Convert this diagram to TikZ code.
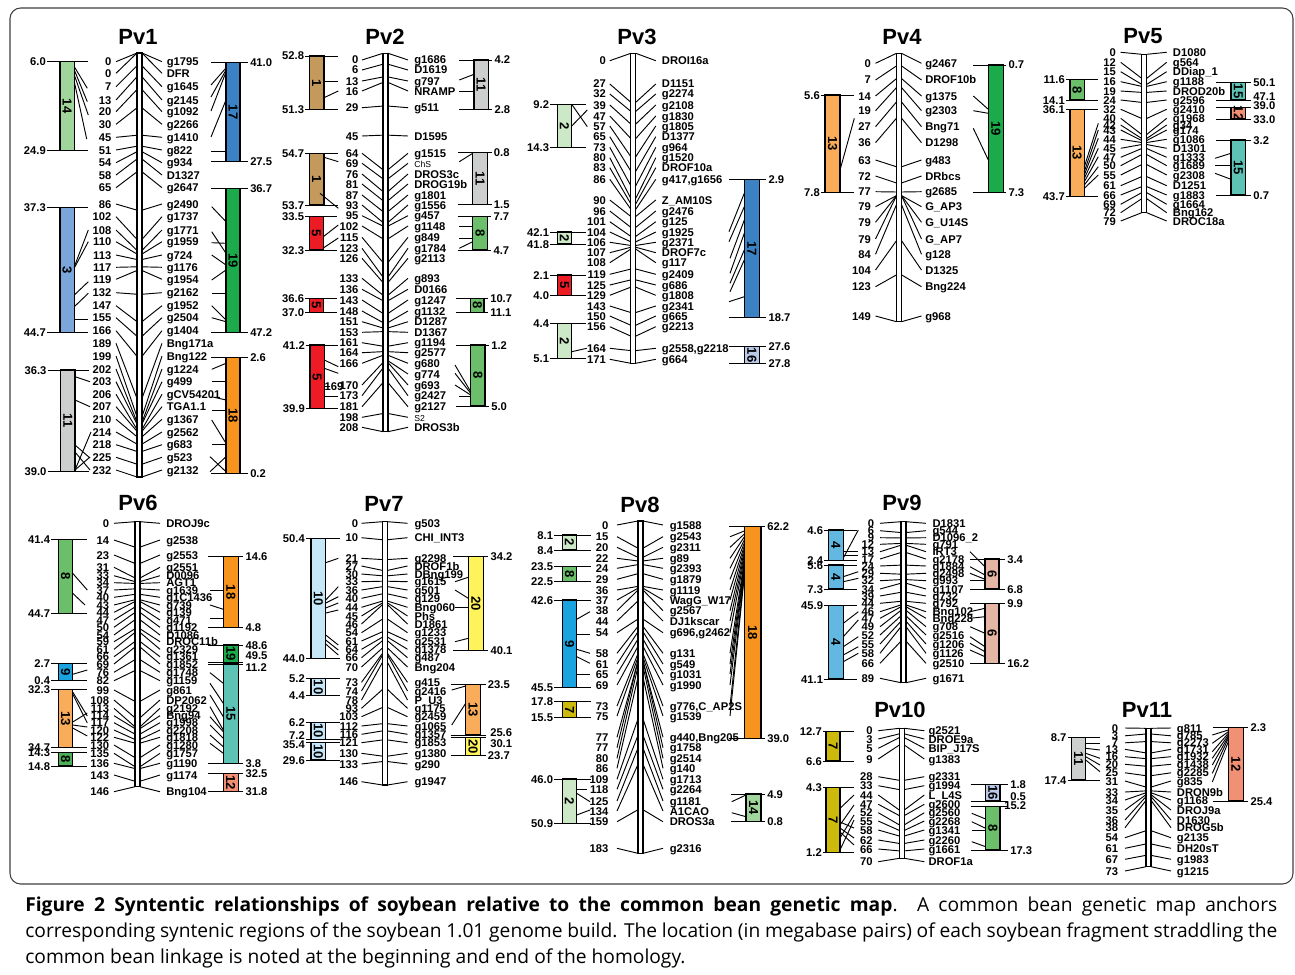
\documentclass[tikz,border=0pt]{standalone}
\usepackage{fontspec}
\setmainfont{Liberation Sans}
\newfontfamily\capfont{Open Sans}
\definecolor{c1}{HTML}{C49A5C}
\definecolor{c2}{HTML}{CDE8C6}
\definecolor{c3}{HTML}{7AA6DA}
\definecolor{c4}{HTML}{62B8E0}
\definecolor{c5}{HTML}{ED1C24}
\definecolor{c6}{HTML}{E5B6A3}
\definecolor{c7}{HTML}{CBB90C}
\definecolor{c8}{HTML}{6BBF6A}
\definecolor{c8d}{HTML}{4DAF55}
\definecolor{c9}{HTML}{1AA3DF}
\definecolor{c10}{HTML}{C5E7F8}
\definecolor{c11}{HTML}{CDCFCE}
\definecolor{c12}{HTML}{F29075}
\definecolor{c13}{HTML}{F9AD5A}
\definecolor{c14}{HTML}{A0D59B}
\definecolor{c15}{HTML}{5EC3B5}
\definecolor{c16}{HTML}{B9C9E6}
\definecolor{c17}{HTML}{3B82C4}
\definecolor{c18}{HTML}{F7941D}
\definecolor{c19}{HTML}{1BAB4B}
\definecolor{c20}{HTML}{FFF35C}
\tikzset{
 lab/.style={font=\bfseries\fontsize{8.4}{9}\selectfont,inner sep=0pt},
 ttl/.style={font=\bfseries\fontsize{16.5}{18}\selectfont,inner sep=0pt},
 bnum/.style={font=\bfseries\fontsize{9.8}{10}\selectfont,inner sep=0pt,rotate=-90},
 conn/.style={line width=0.7pt},
 chrom/.style={draw,fill=white,line width=0.9pt},
 blk/.style={draw,line width=0.8pt},
 capt/.style={anchor=base west,inner sep=0pt,font=\capfont\fontsize{14.4}{17}\selectfont},
}
\newcounter{nc}
\newcommand\setchr[6]{\gdef\cx{#1}\gdef\ctop{#2}\gdef\cbot{#3}\gdef\cmax{#4}\gdef\lgp{#5}\gdef\rgp{#6}}
\newcommand\drawchr{\draw[chrom] (\cx-2.5,\ctop) rectangle (\cx+2.5,\cbot);}
\newcommand\chy[1]{\pgfmathsetmacro\yy{\ctop+(#1)/\cmax*(\cbot-\ctop)}}
\newcommand\lmk[3]{\chy{#1}\draw[conn] (\cx-23.5,#2) -- (\cx-2.5,\yy);\stepcounter{nc}\node[lab,anchor=base east] (n\arabic{nc}) at (\cx-\lgp,#2+4) {#3};}
\newcommand\rmk[3]{\chy{#1}\draw[conn] (\cx+2.5,\yy) -- (\cx+22.5,#2);\stepcounter{nc}\node[lab,anchor=base west] (n\arabic{nc}) at (\cx+\rgp,#2+4) {#3};}
\newcommand\mk[3]{\lmk{#1}{#2}{#1}\rmk{#1}{#2}{#3}}
\newcommand\sg[4]{\draw[conn] (#1,#2) -- (#3,#4);}
\newcommand\vL[3]{\stepcounter{nc}\node[lab,anchor=base east] (n\arabic{nc}) at (#1,#2+4) {#3};}
\newcommand\vR[3]{\stepcounter{nc}\node[lab,anchor=base west] (n\arabic{nc}) at (#1,#2+4) {#3};}
\newcommand\bL[8]{%
 \draw[conn] (#1-\lvg+1,#2) -- (#3+14,#2);
 \draw[conn] (#1-\lvg+1,#4) -- (#3+14,#4);
 \draw[blk,fill=#5] (#1,#2) rectangle (#3,#4);
 \stepcounter{nc}\node[bnum] (n\arabic{nc}) at ({(#1+#3)/2},{(#2+#4)/2}) {#6};
 \vL{#1-\lvg}{#2}{#7}\vL{#1-\lvg}{#4}{#8}}
\newcommand\bR[8]{%
 \draw[conn] (#1-15,#2) -- (#3+\rvg-2,#2);
 \draw[conn] (#1-15,#4) -- (#3+\rvg-2,#4);
 \draw[blk,fill=#5] (#1,#2) rectangle (#3,#4);
 \stepcounter{nc}\node[bnum] (n\arabic{nc}) at ({(#1+#3)/2},{(#2+#4)/2}) {#6};
 \vR{#3+\rvg}{#2}{#7}\vR{#3+\rvg}{#4}{#8}}
\begin{document}
\begin{tikzpicture}[x=0.75pt,y=-0.75pt]
\useasboundingbox (0,0) rectangle (1295,974);
\fill[white] (0,0) rectangle (1295,974);
\draw[rounded corners=8pt,line width=0.8pt,black!75] (10,8) rectangle (1293,884);
% titles
\node[ttl] (t1) at (138,37) {Pv1};
\node[ttl] (t2) at (385,37) {Pv2};
\node[ttl] (t3) at (637,37) {Pv3};
\node[ttl] (t4) at (902,37) {Pv4};
\node[ttl] (t5) at (1143,36) {Pv5};
\node[ttl] (t6) at (138,503) {Pv6};
\node[ttl] (t7) at (384,504) {Pv7};
\node[ttl] (t8) at (640,505) {Pv8};
\node[ttl] (t9) at (902,503) {Pv9};
\node[ttl] (t10) at (900,710) {Pv10};
\node[ttl] (t11) at (1147,710) {Pv11};
%================ Pv1
\setchr{139.5}{53}{477}{232}{28}{27}
\def\lvg{14}\def\rvg{10}
\mk{0}{61.7}{g1795}
\mk{0}{73.3}{DFR}
\mk{7}{86.7}{g1645}
\mk{13}{100}{g2145}
\mk{20}{111.7}{g1092}
\mk{30}{124.3}{g2266}
\mk{45}{137.3}{g1410}
\mk{51}{150}{g822}
\mk{54}{162.7}{g934}
\mk{58}{175}{D1327}
\mk{65}{187.7}{g2647}
\mk{86}{204}{g2490}
\mk{102}{216.7}{g1737}
\mk{108}{230}{g1771}
\mk{110}{241.7}{g1959}
\mk{113}{255}{g724}
\mk{117}{267.3}{g1176}
\mk{119}{279.3}{g1954}
\mk{132}{292.7}{g2162}
\mk{147}{305.7}{g1952}
\mk{155}{317.7}{g2504}
\mk{166}{330.7}{g1404}
\mk{189}{343.3}{Bng171a}
\mk{199}{356}{Bng122}
\mk{202}{369}{g1224}
\mk{203}{381.7}{g499}
\mk{206}{394.3}{gCV54201}
\mk{207}{406.7}{TGA1.1}
\mk{210}{419.3}{g1367}
\mk{214}{432}{g2562}
\mk{218}{444.7}{g683}
\mk{225}{457.3}{g523}
\mk{232}{470}{g2132}
\drawchr
\bL{60}{61.7}{74.3}{150.7}{c14}{14}{6.0}{24.9}
\sg{74.3}{66.7}{87.3}{88.3}\sg{74.3}{70}{87.3}{101.7}\sg{74.3}{75}{88.3}{115}\sg{74.3}{81.7}{86.7}{139}
\bL{60}{207.7}{74.3}{332.3}{c3}{3}{37.3}{44.7}
\sg{74.3}{266.7}{88.3}{230}\sg{74.3}{268}{88.3}{241.7}\sg{74.3}{295}{88.3}{281.7}\sg{74.3}{306.7}{88.3}{293.3}\sg{74.3}{319}{88.3}{319}
\bL{60.7}{370}{75}{471.7}{c11}{11}{36.3}{39.0}
\sg{75}{376.7}{90}{381.7}\sg{75}{400}{90}{406.7}\sg{75}{470}{91}{432}\sg{75}{445}{90}{458}\sg{75}{452}{90}{470}\sg{75}{470}{90}{457}
\bR{226}{62.7}{240}{161.7}{c17}{17}{41.0}{27.5}
\sg{211}{85}{226}{68}\sg{211}{97}{226}{70}\sg{211}{111}{226}{72}\sg{211}{137}{226}{100}\sg{211}{151.3}{226}{151.3}
\bR{226}{188.3}{240}{332.3}{c19}{19}{36.7}{47.2}
\sg{211.7}{206.7}{226}{221.7}\sg{211.7}{231.7}{226}{253.3}\sg{211.7}{242.7}{226}{243.3}\sg{211.7}{255}{226}{265}\sg{211.7}{280}{226}{270}\sg{211.7}{293.3}{226}{293.3}\sg{211.7}{305.7}{226}{320}\sg{211.7}{317.7}{226}{321.7}
\bR{226}{357.3}{240}{473.3}{c18}{18}{2.6}{0.2}
\sg{211.7}{369.3}{226}{363.3}\sg{211.7}{381}{226}{381}\sg{211.7}{396.7}{226}{400}\sg{211.7}{410}{226}{410}\sg{211.7}{420}{226}{443.3}\sg{211.7}{444.3}{226}{444.3}\sg{210}{456.7}{226}{471.7}\sg{210}{471.7}{226}{456.7}
%================ Pv2
\setchr{385.5}{53.3}{431.7}{208}{27}{28.5}
\def\lvg{5}\def\rvg{6}
\mk{0}{60}{g1686}
\mk{6}{70}{D1619}
\mk{13}{81}{g797}
\mk{16}{91}{NRAMP}
\mk{29}{107.7}{g511}
\mk{45}{136}{D1595}
\mk{64}{153.3}{g1515}
\mk{69}{163.3}{{\mdseries\fontsize{6.5}{7}\selectfont ChS}}
\mk{76}{174}{DROS3c}
\mk{81}{184}{DROG19b}
\mk{87}{195}{g1801}
\mk{93}{205}{g1556}
\mk{95}{215.7}{g457}
\mk{102}{226}{g1148}
\mk{115}{237.3}{g849}
\mk{123}{248.3}{g1784}
\mk{126}{258.3}{g2113}
\mk{133}{278.3}{g893}
\mk{136}{289.3}{D0166}
\mk{143}{300}{g1247}
\mk{148}{311}{g1132}
\mk{151}{321.7}{D1287}
\mk{153}{332.3}{D1367}
\mk{161}{342.7}{g1194}
\mk{164}{352.7}{g2577}
\mk{166}{363.3}{g680}
\rmk{169}{374}{g774}
\mk{170}{385}{g693}
\mk{173}{395.7}{g2427}
\mk{181}{406.7}{g2127}
\mk{198}{417.3}{{\mdseries\fontsize{6.5}{7}\selectfont S2}}
\mk{208}{427.3}{DROS3b}
\drawchr
\bL{309.3}{56}{324}{109.3}{c1}{1}{52.8}{51.3}
\sg{324}{81.7}{338.3}{81.7}\sg{324}{97.7}{338.3}{91}
\bL{309.3}{153.3}{324}{205}{c1}{1}{54.7}{53.7}
\sg{324}{157.3}{338.3}{161.7}\sg{320}{193.3}{338.3}{208.3}
\bL{309.3}{216.7}{323.3}{250}{c5}{5}{33.5}{32.3}
\sg{323.3}{236.7}{338.3}{225}\sg{323.3}{248}{338.3}{238}
\bL{309.3}{298.3}{323.3}{312.3}{c5}{5}{36.6}{37.0}
\bL{310}{345}{324.3}{408.3}{c5}{5}{41.2}{39.9}
\sg{324.3}{360}{338.3}{366.7}\sg{324.3}{368.3}{338.3}{373.3}\sg{324.3}{396}{338.3}{396}\sg{324.3}{386.7}{330}{386.7}
\vL{343.5}{386.7}{169}
\bR{474}{60}{488.3}{109.3}{c11}{11}{4.2}{2.8}
\sg{459.3}{80}{474}{74.3}\sg{459.3}{91.7}{474}{91.7}
\bR{472.7}{152.7}{487.7}{204.3}{c11}{11}{0.8}{1.5}
\sg{459.3}{161.7}{472.7}{153.3}
\bR{472.7}{216.7}{487.3}{250}{c8}{8}{7.7}{4.7}
\sg{459.3}{226.7}{472.7}{226.7}\sg{459.3}{238.3}{472.7}{238.3}\sg{459.3}{248.3}{472.7}{241.7}
\bR{470.7}{298.3}{484}{312.3}{c8}{8}{10.7}{11.1}
\bR{470.7}{345}{485}{406}{c8}{8}{1.2}{5.0}
\sg{455}{365}{470.7}{391.7}\sg{455}{373.3}{470.7}{393.3}\sg{455}{385}{470.7}{395}\sg{459.3}{396}{470.7}{396}
%================ Pv3
\setchr{633.3}{53.3}{363.3}{171}{27.3}{28.4}
\def\lvg{8}\def\rvg{9}
\mk{0}{60.7}{DROI16a}
\mk{27}{84}{D1151}
\mk{32}{94}{g2274}
\mk{39}{105}{g2108}
\mk{47}{116}{g1830}
\mk{57}{126}{g1805}
\mk{65}{136.7}{D1377}
\mk{73}{147.3}{g964}
\mk{80}{157.7}{g1520}
\mk{83}{167.7}{DROF10a}
\mk{86}{179.3}{g417,g1656}
\mk{90}{200}{Z\_AM10S}
\mk{96}{211}{g2476}
\mk{101}{221.7}{g125}
\mk{104}{232}{g1925}
\mk{106}{242.3}{g2371}
\mk{107}{252.7}{DROF7c}
\mk{108}{262.7}{g117}
\mk{119}{274.3}{g2409}
\mk{125}{285}{g686}
\mk{129}{295.3}{g1808}
\mk{143}{306}{g2341}
\mk{150}{316}{g665}
\mk{156}{326.7}{g2213}
\mk{164}{348.3}{g2558,g2218}
\mk{171}{359.3}{g664}
\drawchr
\bL{557.3}{104.3}{571.7}{147.3}{c2}{2}{9.2}{14.3}
\sg{571.7}{104.3}{587.3}{126.7}\sg{571.7}{126}{587.3}{110}
\bL{557.3}{232}{571.7}{244}{c2}{2}{42.1}{41.8}
\bL{557.3}{275}{571.7}{295.3}{c5}{5}{2.1}{4.0}
\bL{557.3}{323.3}{571.7}{358.7}{c2}{2}{4.4}{5.1}
\sg{571.7}{351.7}{586.7}{348.3}
\bR{744.3}{179.3}{759.3}{317.7}{c17}{17}{2.9}{18.7}
\sg{729}{231.7}{744.3}{193.3}\sg{729}{241.7}{744.3}{206.7}\sg{730}{258.3}{744.3}{220}\sg{730}{273.3}{744.3}{233.3}\sg{730}{283.3}{744.3}{250}\sg{730}{291.7}{744.3}{260}\sg{729}{301.7}{744.3}{296.7}
\bR{744.3}{346.7}{759.3}{363.3}{c16}{16}{27.6}{27.8}
%================ Pv4
\setchr{899}{53.3}{321.7}{149}{28}{26}
\def\lvg{5}\def\rvg{5}
\mk{0}{63.3}{g2467}
\mk{7}{80}{DROF10b}
\mk{14}{96}{g1375}
\mk{19}{110.7}{g2303}
\mk{27}{126.7}{Bng71}
\mk{36}{142.7}{D1298}
\mk{63}{160}{g483}
\mk{72}{176}{DRbcs}
\mk{77}{191.7}{g2685}
\mk{79}{206.7}{G\_AP3}
\mk{79}{222.3}{G\_U14S}
\mk{79}{239}{G\_AP7}
\mk{84}{254.3}{g128}
\mk{104}{270}{D1325}
\mk{123}{286.7}{Bng224}
\mk{149}{316}{g968}
\drawchr
\bL{825}{95}{840}{192.3}{c13}{13}{5.6}{7.8}
\sg{840}{170}{854.3}{118.3}
\bR{988.3}{65}{1003.3}{192.3}{c19}{19}{0.7}{7.3}
\sg{973.3}{96}{988.3}{109.3}\sg{973.3}{110.7}{988.3}{113.3}\sg{973.3}{128.3}{988.3}{160}
%================ Pv5
\setchr{1144.2}{54.3}{212.7}{79}{28.2}{28.5}
\def\lvg{5}\def\rvg{7.5}
\mk{0}{52.3}{D1080}
\mk{12}{62.3}{g564}
\mk{15}{71.7}{DDiap\_1}
\mk{16}{81.7}{g1188}
\mk{19}{91}{DROD20b}
\mk{24}{100}{g2596}
\mk{32}{109.3}{g2410}
\mk{40}{118.3}{g1968}
\mk{42}{125}{g34}
\mk{43}{130}{g174}
\mk{44}{139.3}{g1086}
\mk{45}{148.3}{D1301}
\mk{47}{157.3}{g1333}
\mk{50}{165.7}{g1689}
\mk{55}{175}{g2308}
\mk{61}{185.7}{D1251}
\mk{66}{195}{g1883}
\mk{69}{204.3}{g1664}
\mk{72}{212.7}{Bng162}
\mk{79}{221}{DROC18a}
\drawchr
\bL{1070}{79.3}{1084.3}{100}{c8}{8}{11.6}{14.1}
\bL{1070}{109.3}{1084.3}{196.7}{c13}{13}{36.1}{43.7}
\sg{1084.3}{166.7}{1098.3}{123.3}\sg{1084.3}{171.7}{1098.3}{130}\sg{1084.3}{175}{1098.3}{138.3}\sg{1084.3}{178.3}{1098.3}{148.3}\sg{1084.3}{181.7}{1098.3}{156.7}\sg{1084.3}{185}{1098.3}{166.7}\sg{1084.3}{188.3}{1098.3}{175}
\bR{1231}{82.3}{1245.7}{100}{c15}{15}{50.1}{}
\vR{1253.2}{96}{47.1}
\bR{1231}{107.3}{1245.7}{119}{c12}{12}{}{33.0}
\vR{1253.2}{105.5}{39.0}
\bR{1231}{140}{1245.7}{195}{c15}{15}{3.2}{0.7}
\sg{1215}{158.3}{1231}{153.3}\sg{1215}{165}{1231}{165}\sg{1215}{173.3}{1231}{179.3}
%================ Pv6
\setchr{137.5}{521.7}{786.7}{146}{28.2}{28.5}
\def\lvg{8}\def\rvg{7}
\mk{0}{523.3}{DROJ9c}
\mk{14}{540}{g2538}
\mk{23}{555}{g2553}
\mk{31}{567.3}{g2551}
\mk{33}{575.7}{D0096}
\mk{34}{582.7}{AGT1}
\mk{37}{590}{g1639}
\mk{40}{597.3}{g1C1436}
\mk{43}{605}{g739}
\mk{44}{612.3}{g139}
\mk{47}{620}{g471}
\mk{50}{627.3}{g1192}
\mk{54}{635}{D1086}
\mk{59}{641.7}{DROC11b}
\mk{61}{649.3}{g2329}
\mk{66}{656.7}{g1361}
\mk{69}{664}{g1852}
\mk{76}{672.3}{g1748}
\mk{82}{680.7}{g1159}
\mk{99}{690}{g861}
\mk{108}{700}{DP2062}
\mk{113}{708.3}{g2192}
\mk{114}{715.7}{Bng94}
\mk{117}{722.7}{g1998}
\mk{120}{730}{g2208}
\mk{122}{737.3}{g1818}
\mk{130}{745}{g1280}
\mk{135}{753.3}{g1757}
\mk{136}{763.3}{g1190}
\mk{143}{775}{g1174}
\mk{146}{791.7}{Bng104}
\drawchr
\bL{58.3}{539.3}{72.7}{613.3}{c8}{8}{41.4}{44.7}
\sg{72.7}{573.3}{87.3}{590}\sg{72.7}{593.3}{85}{605}
\bL{58.3}{663.3}{72.7}{680.7}{c9}{9}{2.7}{0.4}
\sg{72.7}{674.3}{87.3}{670}
\bL{58.3}{689.3}{72.7}{747.3}{c13}{13}{32.3}{34.7}
\sg{72.7}{692}{87.3}{716}\sg{72.7}{694}{87.3}{723}\sg{72.7}{722}{87.3}{713}\sg{72.7}{725}{87.3}{727}\sg{72.7}{728}{87.3}{736}
\bL{58.3}{752.3}{72.7}{766}{c8d}{8}{14.3}{14.8}
\bR{223.3}{556.7}{238.3}{627.7}{c18}{18}{14.6}{4.8}
\sg{210}{590}{223.3}{590}\sg{210}{605}{223.3}{609.3}\sg{210}{618.3}{223.3}{618.3}
\bR{223.3}{645}{238.3}{662.3}{c19}{19}{48.6}{}
\vR{245.3}{655}{49.5}
\bR{223.3}{664}{238.3}{763.3}{c15}{15}{}{3.8}
\vR{245.3}{667}{11.2}
\sg{210}{672.7}{223.3}{683.3}\sg{210}{683.3}{223.3}{703.3}\sg{210}{695}{223.3}{716.7}\sg{210}{706.7}{223.3}{730}\sg{210}{716.7}{223.3}{731.7}\sg{210}{725}{223.3}{738.3}\sg{210}{735}{223.3}{746.7}\sg{210}{743.3}{223.3}{753.3}
\bR{223.3}{773.3}{238.3}{791.7}{c12}{12}{32.5}{31.8}
%================ Pv7
\setchr{385}{521.7}{785}{146}{26.7}{29.3}
\def\lvg{6}\def\rvg{7}
\mk{0}{523.3}{g503}
\mk{10}{537.7}{CHI\_INT3}
\mk{21}{558.3}{g2298}
\mk{27}{566}{DROF1b}
\mk{30}{574}{DBng199}
\mk{33}{581.7}{g1615}
\mk{36}{590}{g501}
\mk{40}{598.3}{g129}
\mk{44}{607.3}{Bng060}
\mk{45}{616}{Phs}
\mk{46}{624}{D1861}
\mk{54}{632.7}{g1233}
\mk{61}{641}{g2531}
\mk{64}{649.3}{g1378}
\mk{66}{657.7}{g487}
\mk{70}{667}{Bng204}
\mk{73}{682.3}{g415}
\mk{74}{691}{g2416}
\mk{78}{700}{P\_U3}
\mk{93}{708.3}{g1175}
\mk{103}{716.7}{g2459}
\mk{112}{726}{g1065}
\mk{116}{734.3}{g1357}
\mk{121}{742.7}{g1853}
\mk{130}{753.3}{g1380}
\mk{133}{764}{g290}
\mk{146}{781.7}{g1947}
\drawchr
\bL{311}{538.3}{325.7}{658.3}{c10}{10}{50.4}{44.0}
\sg{325.7}{562.7}{338.3}{558.3}\sg{325.7}{600}{338.3}{586.7}\sg{325.7}{603}{338.3}{596.7}\sg{325.7}{608}{338.3}{603}\sg{325.7}{613}{338.3}{610}\sg{325.7}{635}{338.3}{645}\sg{325.7}{640}{338.3}{650}\sg{325.7}{644}{338.3}{655}
\bL{311}{678.3}{325.7}{695.7}{c10}{10}{5.2}{4.4}
\bL{311}{722.3}{325.7}{739.3}{c10}{10}{6.2}{}
\vL{305}{735}{7.2}
\bL{311}{742.7}{325.7}{760}{c10}{10}{}{29.6}
\vL{305}{744}{35.4}
\bR{468.3}{556.7}{483.3}{650.7}{c20}{20}{34.2}{40.1}
\sg{455}{581.7}{468.3}{577.3}\sg{455}{590}{468.3}{598.3}\sg{455}{607.3}{468.3}{607.3}\sg{455}{641.7}{468.3}{638.3}
\bR{465.7}{684.3}{480.7}{735}{c13}{13}{23.5}{}
\vR{490}{732.7}{25.6}
\sg{451.7}{690}{465.7}{686}\sg{451.7}{725}{465.7}{703.3}
\bR{465.7}{737.3}{480.7}{755.7}{c20}{20}{}{23.7}
\vR{490}{743.3}{30.1}
%================ Pv8
\setchr{640.5}{521}{853.3}{183}{32}{29}
\def\lvg{9}\def\rvg{6}
\mk{0}{525}{g1588}
\mk{15}{536.7}{g2543}
\mk{20}{547.3}{g2311}
\mk{22}{558.3}{g89}
\mk{24}{568.3}{g2393}
\mk{29}{579.3}{g1879}
\mk{36}{590}{g1119}
\mk{37}{600}{WagG\_W17}
\mk{38}{610.7}{g2567}
\mk{44}{621}{DJ1kscar}
\mk{54}{632.7}{g696,g2462}
\mk{58}{653.3}{g131}
\mk{61}{664}{g549}
\mk{65}{674}{g1031}
\mk{69}{685}{g1990}
\mk{73}{706}{g776,C\_AP2S}
\mk{75}{716}{g1539}
\mk{77}{737.3}{g440,Bng205}
\mk{77}{747.7}{g1758}
\mk{80}{758.3}{g2514}
\mk{86}{768.3}{g140}
\mk{109}{779.3}{g1713}
\mk{118}{789.3}{g2264}
\mk{125}{801}{g1181}
\mk{134}{811}{A1CAO}
\mk{159}{821.7}{DROS3a}
\mk{183}{848.3}{g2316}
\drawchr
\bL{562.3}{535}{576.7}{550}{c2}{2}{8.1}{8.4}
\bL{562.3}{566.7}{576.7}{581.7}{c8}{8}{23.5}{22.5}
\bL{562.3}{600}{576.7}{687.3}{c9}{9}{42.6}{45.5}
\sg{576.7}{619.3}{590}{611.7}\sg{576.7}{634.3}{590}{634.3}\sg{576.7}{649.3}{590}{653.3}\sg{576.7}{656.7}{590}{663.3}\sg{576.7}{674}{590}{674}
\bL{562.3}{701.7}{576.7}{717.7}{c7}{7}{17.8}{15.5}
\bL{562.3}{779}{576.7}{823.3}{c2}{2}{46.0}{50.9}
\sg{576.7}{789.3}{586.7}{789.3}\sg{576.7}{793.3}{590}{801.7}\sg{576.7}{815}{590}{810}
\bR{744.3}{526.7}{761}{738.3}{c18}{18}{62.2}{39.0}
\foreach \q [count=\k] in {536.7,547.3,558.3,568.3,579.3,590,600,610.7,621,632.7,653.3,664,674,685,706,716}{\draw[conn] (730,\q) -- (744.3,{528+\k*3});}
\bR{746}{794}{761}{821.7}{c14}{14}{4.9}{0.8}
\sg{731.7}{801.7}{746}{795}\sg{731.7}{812.7}{746}{816.7}
%================ Pv9
\setchr{903.5}{521.7}{682.7}{89}{29.2}{28.8}
\def\lvg{5}\def\rvg{8}
\mk{0}{523.3}{D1831}
\mk{6}{530.7}{g544}
\mk{9}{537.7}{D1096\_2}
\mk{12}{544.3}{g791}
\mk{13}{551.7}{IRT3}
\mk{17}{559}{g2178}
\mk{24}{566}{g1884}
\mk{29}{573.3}{g2498}
\mk{32}{580.7}{g993}
\mk{34}{589}{g1107}
\mk{39}{596}{g732}
\mk{44}{603.3}{g792}
\mk{46}{611.7}{Bng102}
\mk{47}{618.3}{Bng228}
\mk{49}{626.7}{g708}
\mk{52}{635}{g2516}
\mk{55}{644}{g1206}
\mk{58}{653.3}{g1126}
\mk{66}{663.3}{g2510}
\mk{89}{678.3}{g1671}
\drawchr
\bL{828.3}{530}{843.3}{560.7}{c4}{4}{4.6}{2.4}
\sg{843.3}{558}{858.3}{530}\sg{843.3}{551.7}{858.3}{551.7}\sg{843.3}{555.7}{858.3}{555.7}
\bL{828.3}{565}{843.3}{589}{c4}{4}{5.6}{7.3}
\sg{843.3}{576.7}{858.3}{571.7}\sg{843.3}{581.7}{858.3}{578.3}
\bL{828.3}{605.7}{843.3}{679}{c4}{4}{45.9}{41.1}
\sg{843.3}{623.3}{858.3}{611.7}\sg{843.3}{636.7}{858.3}{620}\sg{843.3}{646.7}{858.3}{636.7}\sg{843.3}{655}{858.3}{646.7}\sg{843.3}{661.7}{858.3}{653.3}
\bR{985}{559}{999}{589}{c6}{6}{3.4}{6.8}
\sg{970}{551.7}{985}{566.7}\sg{970}{566.7}{985}{575}\sg{970}{573.3}{985}{579.3}\sg{970}{580}{985}{580}
\bR{985}{603.3}{999}{663.3}{c6}{6}{9.9}{16.2}
\sg{970}{611.7}{985}{608.3}\sg{970}{618.3}{985}{616.7}\sg{970}{626.7}{985}{633.3}\sg{970}{636.7}{985}{646.7}\sg{970}{643.3}{985}{651.7}\sg{970}{650}{985}{656.7}
%================ Pv10
\setchr{901.8}{728.3}{858.3}{70}{29}{26.5}
\def\lvg{4}\def\rvg{10}
\mk{0}{730.7}{g2521}
\mk{3}{739}{DROE9a}
\mk{5}{748.3}{BIP\_J17S}
\mk{9}{759}{g1383}
\mk{28}{776.7}{g2331}
\mk{33}{785.7}{g1994}
\mk{44}{795}{L\_L4S}
\mk{47}{804.3}{g2600}
\mk{52}{812.7}{g2560}
\mk{55}{821}{g2268}
\mk{58}{830}{g1341}
\mk{62}{840}{g2260}
\mk{66}{849}{g1661}
\mk{70}{861.7}{DROF1a}
\drawchr
\bL{826}{731.7}{840}{761}{c7}{7}{12.7}{6.6}
\bL{826}{787.3}{840}{852.7}{c7}{7}{4.3}{1.2}
\sg{840}{808.3}{854}{795}\sg{840}{825}{854}{805}\sg{840}{838}{854}{815}\sg{840}{822}{854}{828}\sg{840}{828}{854}{838}\sg{840}{832}{854}{845}\sg{840}{850}{854}{820}
\bR{985.7}{784.3}{1000}{801}{c16}{16}{1.8}{}
\vR{1010}{796.5}{0.5}
\bR{985.7}{806.7}{1000}{850}{c8}{8}{}{17.3}
\vR{1004}{805}{15.2}
\sg{971.7}{813.3}{985.7}{819}\sg{971.7}{821.7}{985.7}{828.3}\sg{971.7}{830}{985.7}{830}\sg{971.7}{841.7}{985.7}{846.7}
%================ Pv11
\setchr{1148.5}{728.3}{866.7}{73}{30.2}{28.2}
\def\lvg{5}\def\rvg{7}
\mk{0}{728}{g811}
\mk{3}{735.8}{g785}
\mk{7}{742.8}{g2273}
\mk{13}{749.3}{g1731}
\mk{16}{756.7}{g1932}
\mk{20}{764.3}{g1438}
\mk{25}{772.8}{g2285}
\mk{31}{781}{g835}
\mk{33}{792}{DRON9b}
\mk{34}{800}{g1168}
\mk{35}{810}{DROJ9a}
\mk{36}{820}{D1630}
\mk{38}{827.7}{DROG5b}
\mk{54}{837.7}{g2135}
\mk{61}{848.3}{DH20sT}
\mk{67}{859.3}{g1983}
\mk{73}{871}{g1215}
\drawchr
\bL{1071.7}{737.3}{1085.7}{780}{c11}{11}{8.7}{17.4}
\sg{1085.7}{743.3}{1100}{743.3}\sg{1085.7}{748.3}{1100}{750}\sg{1085.7}{753.3}{1100}{758.3}\sg{1085.7}{756.7}{1100}{765}\sg{1085.7}{760}{1100}{771.7}
\bR{1228.3}{727.3}{1243.3}{801}{c12}{12}{2.3}{25.4}
\sg{1212.3}{735}{1228.3}{730}\sg{1212.3}{743.3}{1228.3}{731.7}\sg{1212.3}{751.7}{1228.3}{733.3}\sg{1212.3}{758.3}{1228.3}{735}\sg{1212.3}{765}{1228.3}{736.7}\sg{1212.3}{773.3}{1228.3}{738.3}\sg{1212.3}{782}{1228.3}{741.7}
%================ caption
\node[capt] (cap1) at (25,911) {\makebox[939pt][s]{\textbf{Figure 2 Syntentic relationships of soybean relative to the common bean genetic map}. A common bean genetic map anchors}};
\node[capt] (cap2) at (25,937) {\makebox[939pt][s]{corresponding syntenic regions of the soybean 1.01 genome build. The location (in megabase pairs) of each soybean fragment straddling the}};
\node[capt] (cap3) at (25,963) {common bean linkage is noted at the beginning and end of the homology.};
\end{tikzpicture}
\end{document}
